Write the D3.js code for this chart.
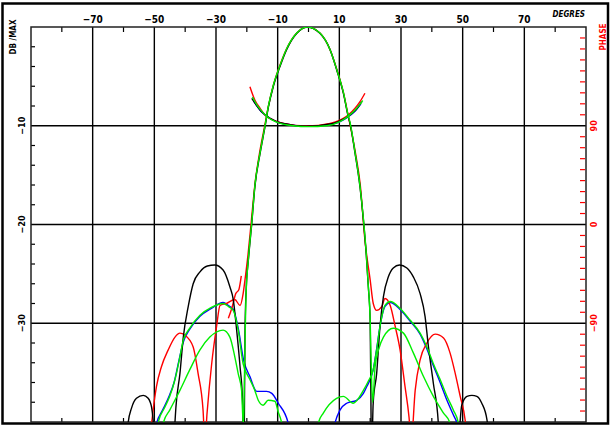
<!DOCTYPE html>
<html><head><meta charset="utf-8">
<script src="https://cdn.jsdelivr.net/npm/d3@7"></script>
<style>
body{margin:0;background:#fff}
svg{display:block}
text{font-family:"DejaVu Sans Condensed","DejaVu Sans",sans-serif;font-weight:bold}
</style>
</head><body>
<svg id="chart" width="611" height="427"></svg>
<script>
// ---------- tick labels ----------
const xGridTicks = [-70, -50, -30, -10, 10, 30, 50, 70];
const xMinorTicks = [-80, -60, -40, -20, 0, 20, 40, 60, 80];
const yGridTicks = [-10, -20, -30];
const yMinorTicks = [-2,-4,-6,-8,-12,-14,-16,-18,-22,-24,-26,-28,-32,-34,-36,-38];
const phaseLabelTicks = [90, 0, -90];
const phaseMinorTicks = [170,160,150,140,130,120,110,100,80,70,60,50,40,30,20,10,-10,-20,-30,-40,-50,-60,-70,-80,-100,-110,-120,-130,-140,-150,-160,-170];

// ---------- amplitude series: [angle deg, dB] ----------
const blackAmp = [[-58.8,-41],[-58.5,-40.1],[-57.4,-38.6],[-55.8,-37.6],[-53.6,-37.3],[-52.0,-37.6],[-50.9,-38.5],[-50.4,-39.8],[-50.1,-41],
 [-47,-46],[-43.6,-42],[-43.3,-40.0],[-43.0,-38.5],[-41.7,-35.1],[-40.6,-31.4],[-39.0,-28.3],[-37.4,-26.0],[-35.2,-24.8],[-32.8,-24.2],[-30.4,-24.1],
 [-27.7,-24.6],[-25.5,-26.3],[-24.4,-27.6],[-23.3,-30.7],[-22.2,-34.4],[-21.4,-37.8],[-21.15,-42],[-21.0,-48],[-20.8,-40],[-20.6,-31],[-20.2,-26.5],
 [-19.5,-23.6],[-18.4,-19.9],[-17.4,-16.2],[-15.7,-12.8],[-14.1,-10.1],[-13.0,-8.1],[-11.4,-6.0],[-9.25,-4.0],[-7.1,-2.3],[-3.8,-0.64],[-0.4,0],
 [3.7,-0.64],[7.0,-2.3],[9.15,-4.35],[11.3,-6.7],[12.9,-9.1],[13.5,-9.8],[15.1,-12.8],[16.7,-16.2],[17.8,-19.5],[18.7,-22.9],[19.4,-26.3],[20.0,-29.7],
 [20.3,-40],[20.5,-48],[20.7,-42],[21.0,-38],[22.1,-35.1],[23.2,-30.3],[24.3,-27.3],[25.9,-25.3],[27.5,-24.4],[29.5,-24.1],[31.9,-24.4],[34.0,-25.3],
 [36.2,-27.0],[37.8,-29.3],[38.9,-32.4],[40.5,-36.1],[42.1,-40.1],[42.5,-43],[46,-47],[48.9,-41],[49.7,-38.3],[51.4,-37.4],[53.0,-37.3],[54.6,-37.4],
 [56.2,-38.1],[57.9,-39.8],[58.3,-41]];

const redAmp = [[-53.5,-42],[-50.9,-40.1],[-50.4,-38.8],[-49.3,-36.4],[-47.7,-34.4],[-45.5,-32.7],[-43.3,-31.4],[-41.7,-31.0],[-40.1,-31.2],
 [-37.4,-32.4],[-35.8,-35.1],[-34.2,-38.8],[-33.6,-42],[-32.9,-39.1],[-31.4,-34.1],[-29.8,-30.3],[-28.7,-28.2],[-26.6,-28.0],[-23.9,-27.6],
 [-22.2,-28.2],[-21.2,-27.0],[-20.6,-25.6],[-19.6,-23.0],[-18.5,-19.5],[-17.4,-16.0],[-15.8,-12.6],[-14.2,-10.0],[-13.0,-8.0],[-11.4,-5.9],
 [-9.3,-3.9],[-7.1,-2.2],[-3.8,-0.6],[-0.4,0],[3.7,-0.6],[7.0,-2.3],[9.2,-4.3],[11.3,-6.6],[12.9,-9.0],[15.2,-12.7],[16.8,-16.0],[18.3,-21.6],
 [20.0,-25.6],[21.0,-28.0],[22.1,-28.7],[23.8,-28.3],[24.8,-27.5],[26.5,-28.2],[28.1,-30.3],[29.7,-32.7],[31.3,-36.4],[32.6,-39.5],[33.3,-42],
 [34.6,-36.8],[36.2,-33.7],[38.4,-32.0],[41.1,-31.1],[43.8,-31.5],[45.9,-33.0],[47.6,-35.1],[49.2,-37.4],[50.8,-39.8],[51.5,-42]];

const redThin = [[-26.0,-29.5],[-24.8,-28.4],[-23.6,-27.0],[-22.6,-26.6],[-21.8,-25.2]];

const greenUpper = [[-49.5,-42],[-48.8,-40.1],[-46.6,-38.5],[-45.0,-37.4],[-43.3,-35.7],[-41.7,-33.4],[-40.6,-31.7],[-38.5,-30.5],[-35.2,-29.2],
 [-31.5,-28.4],[-27.7,-28.0],[-26.0,-28.3],[-24.4,-28.7],[-22.8,-30.7],[-21.2,-34.1],[-19.0,-35.7],[-17.4,-36.8],[-16.3,-37.8],[-14.7,-38.3],
 [-13.1,-37.8],[-10.9,-37.9],[-9.8,-39.0],[-8.7,-40.1],[-7.5,-43],[2.5,-43],[3.2,-40.1],[4.8,-39.1],[9.1,-37.6],[11.3,-37.4],[14.5,-38.1],
 [17.8,-36.8],[19.5,-35.8],[21.0,-34.7],[22.1,-32.7],[23.2,-30.3],[24.8,-28.2],[26.5,-27.8],[29.7,-28.5],[33.0,-29.7],[36.2,-31.0],[38.4,-32.4],
 [40.5,-34.1],[42.7,-35.7],[44.9,-37.4],[47.0,-38.8],[48.6,-40.1],[49.5,-42]];

const blueUpper = [[-50.2,-42],[-49.2,-40.1],[-47.5,-38.9],[-45.5,-37.6],[-43.6,-36.0],[-41.9,-33.6],[-40.6,-31.9],[-38.5,-30.6],[-35.2,-29.3],
 [-31.5,-28.5],[-27.7,-27.9],[-26.0,-28.2],[-24.4,-28.6],[-22.8,-30.5],[-21.0,-33.8],[-19.0,-35.4],[-16.8,-36.9],[-13.6,-36.9],[-11.9,-37.1],
 [-9.8,-38.1],[-6.6,-40.1],[-5.5,-43],[7.0,-43],[8.6,-40.1],[10.2,-38.8],[12.4,-38.1],[15.6,-37.8],[17.8,-37.1],[18.9,-36.4],[21.0,-34.7],
 [22.1,-32.6],[23.2,-30.3],[24.8,-28.3],[26.5,-27.9],[29.7,-28.6],[33.0,-29.8],[36.2,-31.1],[38.4,-32.6],[40.5,-34.3],[42.7,-36.0],[44.9,-37.8],
 [47.0,-39.3],[48.3,-40.3],[49.2,-42]];

const greenLower = [[-47.8,-42],[-47.1,-40.1],[-45.0,-38.8],[-41.7,-36.8],[-38.5,-34.7],[-35.2,-32.7],[-32.0,-31.4],[-27.7,-30.7],[-25.5,-31.4],
 [-23.9,-33.4],[-22.8,-35.1],[-21.7,-36.8],[-21.1,-40.5],[-20.7,-34],[-20.3,-27.5],[-19.5,-23.5],[-18.4,-19.8],[-17.4,-16.1],[-15.7,-12.7],
 [-14.1,-10.0],[-13.0,-8.0],[-11.4,-5.9],[-9.25,-3.9],[-7.1,-2.2],[-3.8,-0.6],[-0.4,0],[3.7,-0.6],[7.0,-2.3],[9.15,-4.3],[11.3,-6.6],[12.9,-9.0],
 [13.5,-9.7],[15.1,-12.7],[16.7,-16.1],[17.8,-19.4],[18.7,-22.8],[19.4,-26.2],[20.0,-29.6],[20.4,-35],[20.8,-38],[21.6,-34.4],[22.7,-32.7],
 [24.3,-31.4],[27.5,-30.5],[30.8,-31.0],[34.0,-33.0],[37.3,-35.4],[40.5,-37.4],[43.8,-39.1],[45.9,-40.1],[46.5,-42]];

// ---------- phase series: [angle deg, phase deg] ----------
const redPhase = [[-19.0,125.6],[-17.4,113.5],[-15.7,105.9],[-14.1,99.8],[-11.4,95.2],[-8.2,92.2],[-0.6,89.8],[7.0,92.2],[10.2,95.2],
 [12.9,99.8],[15.1,105.9],[16.7,111.9],[18.3,119.6]];
const blackPhase = [[-18.4,115.0],[-15.2,102.8],[-12.5,96.8],[-9.0,92.5],[-0.6,89.5],[8.0,92.0],[11.0,95.5],[13.5,100.0],[15.5,105.0],
 [17.3,112.0]];
const greenPhase = [[-18.2,116.0],[-16.0,106.0],[-13.5,98.5],[-10.5,93.5],[-5.0,90.0],[0,89.2],[6.0,90.0],[10.0,93.5],[13.0,99.0],
 [15.5,105.5],[17.6,113.0]];
const bluePhase = [[-17.8,112.5],[-15.0,102.0],[-12.0,96.0],[-8.5,92.0],[0,89.5],[8.5,92.0],[12.0,96.5],[15.0,103.0],[17.0,110.0]];

// ---------- drawing ----------
const svg = d3.select("#chart");
const L = 31, R = 586, T = 27, B = 422;
const x = d3.scaleLinear().domain([-90, 90]).range([L, R]);
const y = d3.scaleLinear().domain([0, -40]).range([T, B]);
const yp = d3.scaleLinear().domain([180, -180]).range([T, B]);

// outer frame
svg.append("rect").attr("x", 2.5).attr("y", 3.5).attr("width", 605.5).attr("height", 420)
  .attr("fill", "none").attr("stroke", "#000").attr("stroke-width", 2.5);

svg.append("defs").append("clipPath").attr("id", "clip")
  .append("rect").attr("x", L).attr("y", T).attr("width", R - L).attr("height", B - T);

// grid lines
const grid = svg.append("g").attr("stroke", "#000").attr("stroke-width", 1.4);
grid.selectAll(".vg").data(xGridTicks).join("line")
  .attr("x1", d => x(d)).attr("x2", d => x(d)).attr("y1", T).attr("y2", B);
grid.selectAll(".hg").data(yGridTicks).join("line")
  .attr("y1", d => y(d)).attr("y2", d => y(d)).attr("x1", L).attr("x2", R);

// minor ticks
const mt = svg.append("g").attr("stroke", "#000").attr("stroke-width", 1.2);
mt.selectAll(".tt").data(xMinorTicks).join("line")
  .attr("x1", d => x(d)).attr("x2", d => x(d)).attr("y1", T).attr("y2", T + 5);
mt.selectAll(".bt").data(xMinorTicks).join("line")
  .attr("x1", d => x(d)).attr("x2", d => x(d)).attr("y1", B).attr("y2", B - 4);
mt.selectAll(".lt").data(yMinorTicks).join("line")
  .attr("y1", d => y(d)).attr("y2", d => y(d)).attr("x1", L).attr("x2", L + 4);
svg.append("g").attr("stroke", "#f00").attr("stroke-width", 1.2)
  .selectAll("line").data(phaseMinorTicks).join("line")
  .attr("y1", d => yp(d)).attr("y2", d => yp(d)).attr("x1", R - 6).attr("x2", R - 1);

// axis frame
svg.append("rect").attr("x", L).attr("y", T).attr("width", R - L).attr("height", B - T)
  .attr("fill", "none").attr("stroke", "#222").attr("stroke-width", 1.5);

// curves
const line = d3.line().x(d => x(d[0])).y(d => y(d[1])).curve(d3.curveMonotoneX);
const pline = d3.line().x(d => x(d[0])).y(d => yp(d[1])).curve(d3.curveMonotoneX);
const plot = svg.append("g").attr("clip-path", "url(#clip)").attr("fill", "none").attr("stroke-width", 1.4);
const seriesList = [
  [blueUpper, line, "#0000ff"],
  [bluePhase, pline, "#0000ff"],
  [redAmp, line, "#ff0000"],
  [redThin, line, "#ff0000"],
  [redPhase, pline, "#ff0000"],
  [blackAmp, line, "#000000"],
  [blackPhase, pline, "#000000"],
  [greenUpper, line, "#00ee00"],
  [greenLower, line, "#00ee00"],
  [greenPhase, pline, "#00ee00"]
];
seriesList.forEach(([data, gen, col]) => {
  plot.append("path").datum(data).attr("d", gen).attr("stroke", col);
});

// labels
const fmt = d => (d < 0 ? "\u2212" + Math.abs(d) : "" + d);
svg.append("g").selectAll("text").data(xGridTicks).join("text")
  .attr("x", d => x(d)).attr("y", T - 4).attr("text-anchor", "middle")
  .attr("font-size", 10).text(fmt);

svg.selectAll(".yl").data(yGridTicks).join("text")
  .attr("transform", d => `translate(${25},${y(d)}) rotate(-90)`)
  .attr("text-anchor", "middle").attr("font-size", 9).text(fmt);

svg.selectAll(".pl").data(phaseLabelTicks).join("text")
  .attr("transform", d => `translate(${597},${yp(d)}) rotate(-90)`)
  .attr("text-anchor", "middle").attr("font-size", 9).attr("fill", "#f00").text(fmt);

svg.append("text").attr("transform", "translate(16,37) rotate(-90)")
  .attr("text-anchor", "middle").attr("font-size", 8).text("DB /MAX");
svg.append("text").attr("transform", "translate(606,37) rotate(-90)")
  .attr("text-anchor", "middle").attr("font-size", 8).attr("fill", "#f00").text("PHASE");
svg.append("text").attr("x", 585).attr("y", 17).attr("text-anchor", "end")
  .attr("font-size", 8).attr("font-style", "italic").text("DEGRES");
</script>
</body></html>
